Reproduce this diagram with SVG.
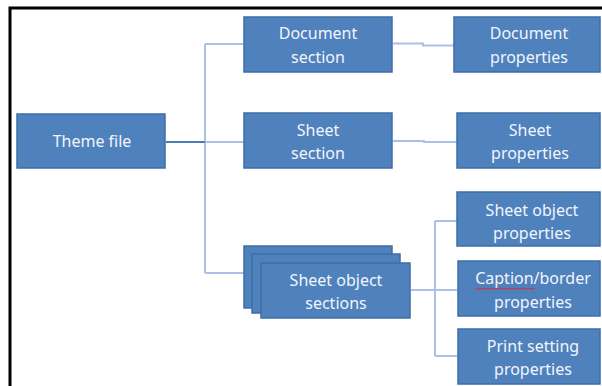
<svg xmlns="http://www.w3.org/2000/svg" width="602" height="386" viewBox="0 0 602 386">
<style>
.box{fill:#4f81bd;stroke:#3d6ea6;stroke-width:1.5}
.t{font-family:"Noto Sans","Open Sans",sans-serif;font-size:16px;fill:#f2f5fb;text-anchor:middle}
.c{fill:none;stroke:#a9c1e4;stroke-width:2}
</style>
<rect width="602" height="386" fill="#ffffff"/>
<path d="M10,386 V8 H602" fill="none" stroke="#000" stroke-width="3"/>
<g id="connectors">
<path class="c" d="M205,44 V273"/>
<path class="c" d="M205,44 H244"/>
<path class="c" d="M205,142 H244"/>
<path class="c" d="M205,273 H244"/>
<path d="M166,142 H205" fill="none" stroke="#4a7ebb" stroke-width="2"/>
<path class="c" d="M393,43.5 H423 V45.5 H454"/>
<path class="c" d="M393,141 H424 V142 H457"/>
<path class="c" d="M411,290 H435"/>
<path class="c" d="M435,221 V356"/>
<path class="c" d="M435,221 H457"/>
<path class="c" d="M435,290 H457"/>
<path class="c" d="M435,356 H457"/>
</g>
<g id="theme-file"><rect class="box" x="17" y="114" width="148" height="54"/><text class="t" x="92" y="147">Theme file</text></g>
<g id="document-section"><rect class="box" x="244" y="17" width="148" height="55"/><text class="t" x="318" y="39">Document</text><text class="t" x="318" y="63">section</text></g>
<g id="document-properties"><rect class="box" x="454" y="17" width="146" height="55"/><text class="t" x="529" y="39">Document</text><text class="t" x="529" y="63">properties</text></g>
<g id="sheet-section"><rect class="box" x="244" y="113" width="148" height="55"/><text class="t" x="318" y="136">Sheet</text><text class="t" x="318" y="159">section</text></g>
<g id="sheet-properties"><rect class="box" x="457" y="113" width="143" height="55"/><text class="t" x="530" y="136">Sheet</text><text class="t" x="530" y="159">properties</text></g>
<g id="sheet-object-sections">
<rect class="box" x="244" y="246" width="148" height="62"/>
<rect class="box" x="252" y="254" width="148" height="59"/>
<rect class="box" x="261" y="263" width="149" height="55"/>
<text class="t" x="336" y="286">Sheet object</text><text class="t" x="336" y="309">sections</text>
</g>
<g id="sheet-object-properties"><rect class="box" x="457" y="192" width="143" height="54"/><text class="t" x="532" y="216">Sheet object</text><text class="t" x="532" y="239">properties</text></g>
<g id="caption-border-properties"><rect class="box" x="458" y="261" width="142" height="55"/><text class="t" x="533" y="284">Caption/border</text><text class="t" x="533" y="308">properties</text>
<path d="M475,289.5 l2,-1.5 l2,1.5 l2,-1.5 l2,1.5 l2,-1.5 l2,1.5 l2,-1.5 l2,1.5 l2,-1.5 l2,1.5 l2,-1.5 l2,1.5 l2,-1.5 l2,1.5 l2,-1.5 l2,1.5 l2,-1.5 l2,1.5 l2,-1.5 l2,1.5 l2,-1.5 l2,1.5 l2,-1.5 l2,1.5 l2,-1.5 l2,1.5 l2,-1.5 l2,1.5 l2,-1.5 l2,1.5" fill="none" stroke="#d9263a" stroke-width="1"/></g>
<g id="print-setting-properties"><rect class="box" x="458" y="329" width="142" height="55"/><text class="t" x="533" y="352">Print setting</text><text class="t" x="533" y="375">properties</text></g>
</svg>
